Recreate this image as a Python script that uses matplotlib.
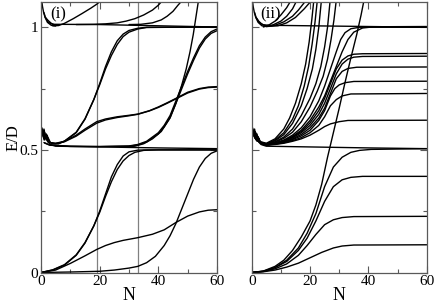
import matplotlib
matplotlib.use("Agg")
import matplotlib.pyplot as plt
from matplotlib.ticker import MultipleLocator

plt.rcParams['font.family'] = ['Liberation Serif', 'DejaVu Serif']

# ---------------- data: panel (i) ----------------
panel_i_labels = "(i)"
vlines_i = [19.0, 33.0]

# lower group (start at 0)
i_A1 = [(0, 0.0), (4, 0.01), (8, 0.03), (12, 0.07), (15, 0.12), (18, 0.19), (20, 0.25), (22, 0.32),
        (24, 0.39), (26, 0.44), (28, 0.475), (30, 0.492), (33, 0.499), (36, 0.5), (45, 0.5), (60, 0.5)]
i_A2 = [(0, 0.0), (4, 0.011), (8, 0.032), (12, 0.072), (15, 0.122), (18, 0.19), (20, 0.245), (22, 0.31),
        (24, 0.37), (26, 0.42), (28, 0.455), (30, 0.477), (32, 0.49), (35, 0.498), (40, 0.5), (60, 0.5)]
i_B = [(0, 0.0), (5, 0.01), (10, 0.037), (15, 0.068), (19, 0.094), (22, 0.11), (25, 0.122), (28, 0.131),
       (33, 0.142), (38, 0.156), (42, 0.174), (46, 0.204), (50, 0.23), (54, 0.247), (57, 0.254), (60, 0.256)]
i_C = [(0, 0.0), (10, 0.002), (20, 0.005), (25, 0.01), (30, 0.018), (33, 0.025), (36, 0.04), (39, 0.066),
       (42, 0.11), (44, 0.15), (46, 0.2), (48, 0.26), (50, 0.32), (52, 0.38), (54, 0.43), (56, 0.465),
       (58, 0.486), (60, 0.496)]

# middle group (start near 0.5)
i_flat = [(0.3, 0.59), (0.7, 0.56), (1.0, 0.585), (1.4, 0.55), (1.8, 0.565), (2.4, 0.532), (3.2, 0.522),
          (5, 0.515), (20, 0.512), (40, 0.508), (60, 0.505)]
i_D1 = [(0.4, 0.585), (0.8, 0.555), (1.1, 0.58), (1.6, 0.545), (2.1, 0.56), (2.8, 0.532), (4, 0.525),
        (6, 0.525), (8, 0.535), (12, 0.57), (15, 0.625), (18, 0.705), (20, 0.77), (22, 0.84), (24, 0.9),
        (26, 0.945), (28, 0.972), (30, 0.987), (33, 0.996), (36, 1.0), (60, 1.0)]
i_D2 = [(0.5, 0.575), (0.9, 0.55), (1.3, 0.57), (1.8, 0.54), (2.4, 0.55), (3.2, 0.53), (4.5, 0.525),
        (6, 0.526), (8, 0.536), (12, 0.572), (15, 0.627), (18, 0.705), (20, 0.765), (22, 0.83), (24, 0.885),
        (26, 0.93), (28, 0.962), (30, 0.98), (33, 0.993), (36, 0.999), (60, 1.002)]
i_E1 = [(0.5, 0.57), (1.0, 0.545), (1.5, 0.56), (2.2, 0.535), (3, 0.53), (5, 0.527), (8, 0.535), (12, 0.56),
        (15, 0.585), (19, 0.615), (22, 0.626), (26, 0.635), (30, 0.641), (33, 0.646), (37, 0.66), (40, 0.675),
        (43, 0.692), (46, 0.71), (50, 0.735), (54, 0.75), (57, 0.756), (60, 0.758)]
i_E2 = [(0.6, 0.565), (1.1, 0.54), (1.7, 0.555), (2.5, 0.533), (3.5, 0.528), (5, 0.526), (8, 0.533),
        (12, 0.556), (15, 0.58), (19, 0.609), (22, 0.622), (26, 0.632), (30, 0.639), (33, 0.645), (37, 0.659),
        (40, 0.673), (43, 0.69), (46, 0.708), (50, 0.732), (54, 0.748), (57, 0.754), (60, 0.756)]
i_F1 = [(1.0, 0.53), (3, 0.52), (10, 0.515), (20, 0.514), (30, 0.516), (33, 0.522), (36, 0.535), (40, 0.57),
        (42, 0.6), (44, 0.64), (46, 0.7), (48, 0.76), (50, 0.82), (52, 0.875), (54, 0.925), (56, 0.96),
        (58, 0.982), (60, 0.993)]
i_F2 = [(1.2, 0.528), (3, 0.519), (10, 0.514), (20, 0.513), (30, 0.515), (33, 0.52), (36, 0.532), (40, 0.565),
        (42, 0.594), (44, 0.632), (46, 0.69), (48, 0.75), (50, 0.81), (52, 0.865), (54, 0.915), (56, 0.952),
        (58, 0.975), (60, 0.986)]
i_Fs = [(28, 0.512), (32, 0.515), (35, 0.525), (38, 0.545), (41, 0.575), (44, 0.63), (46, 0.69), (48, 0.765),
        (49.5, 0.83), (50.8, 0.9), (51.9, 0.97), (52.8, 1.04), (53.7, 1.11)]

# upper group (near 1.0)
i_top_flat = [(1.5, 1.04), (2.5, 1.02), (4, 1.012), (6, 1.012), (20, 1.011), (40, 1.006), (60, 1.001)]
i_top_w1 = [(0.1, 1.12), (0.5, 1.085), (0.9, 1.06), (1.4, 1.04), (2.2, 1.02), (3.5, 1.008), (5, 1.005)]
i_top_w2 = [(1.0, 1.06), (1.5, 1.04), (2.4, 1.028), (3.5, 1.016), (5, 1.008), (6, 1.008)]
i_U1 = [(4, 1.006), (6, 1.007), (8, 1.016), (11, 1.035), (14, 1.056), (17, 1.078), (19, 1.094), (20.6, 1.11)]
i_U2 = [(12, 1.011), (18, 1.012), (22, 1.014), (26, 1.018), (29, 1.025), (32, 1.035), (35, 1.05),
        (38, 1.07), (40, 1.09), (41.5, 1.11)]
i_U3 = [(30, 1.011), (34, 1.012), (38, 1.018), (41, 1.03), (43, 1.045), (45, 1.065), (46.7, 1.09), (48.2, 1.11)]

panel_i = [i_A1, i_A2, i_B, i_C, i_flat, i_D1, i_D2, i_E1, i_E2, i_F1, i_F2, i_Fs,
           i_top_flat, i_top_w1, i_top_w2, i_U1, i_U2, i_U3]

# ---------------- data: panel (ii) ----------------
panel_ii_labels = "(ii)"

ii_Ra = [(0, 0), (4, 0.005), (8, 0.02), (12, 0.05), (16, 0.1), (19, 0.16), (22, 0.24), (25, 0.35),
         (28, 0.43), (31, 0.47), (34, 0.49), (37, 0.498), (41, 0.502), (60, 0.505)]
ii_Rb = [(0, 0), (4, 0.005), (8, 0.02), (12, 0.045), (16, 0.09), (19, 0.14), (22, 0.21), (25, 0.29),
         (28, 0.35), (31, 0.378), (34, 0.388), (38, 0.392), (60, 0.392)]
ii_Rc = [(0, 0), (4, 0.004), (8, 0.015), (12, 0.035), (16, 0.07), (19, 0.11), (22, 0.155), (25, 0.195),
         (28, 0.215), (31, 0.224), (35, 0.228), (60, 0.229)]
ii_Rd = [(0, 0), (4, 0.003), (8, 0.01), (12, 0.022), (16, 0.038), (20, 0.06), (24, 0.082), (28, 0.1),
         (31, 0.108), (35, 0.112), (60, 0.113)]
ii_Rs = [(0, 0), (4, 0.006), (8, 0.025), (11, 0.05), (14, 0.09), (17, 0.145), (20, 0.21), (22, 0.275),
         (24, 0.36), (26, 0.47), (28, 0.57), (30, 0.67), (32, 0.775), (34, 0.875), (36, 0.97), (37.5, 1.05),
         (38.5, 1.11)]

ii_flat = [(0.3, 0.59), (0.7, 0.56), (1.0, 0.585), (1.4, 0.55), (1.8, 0.565), (2.4, 0.532), (3.2, 0.522),
           (5, 0.515), (20, 0.512), (40, 0.508), (60, 0.505)]

ii_S1 = [(0.4, 0.585), (0.8, 0.555), (1.2, 0.575), (1.7, 0.545), (2.5, 0.535), (5, 0.527), (8, 0.545),
         (11, 0.585), (13, 0.63), (15, 0.69), (17, 0.77), (18.5, 0.85), (19.7, 0.94), (20.6, 1.03), (21.3, 1.11)]
ii_S2 = [(0.5, 0.58), (0.9, 0.553), (1.3, 0.572), (1.9, 0.543), (2.7, 0.533), (5, 0.525), (8, 0.54),
         (11, 0.57), (14, 0.625), (16, 0.68), (18, 0.76), (19.5, 0.84), (20.7, 0.93), (21.7, 1.02), (22.5, 1.11)]
ii_S3 = [(0.6, 0.578), (1.0, 0.55), (1.4, 0.568), (2.0, 0.54), (2.9, 0.531), (5, 0.524), (8, 0.537),
         (11, 0.562), (14, 0.608), (17, 0.68), (19, 0.75), (20.8, 0.83), (22, 0.91), (23, 1.0), (23.9, 1.11)]
ii_S4 = [(0.7, 0.575), (1.1, 0.548), (1.5, 0.565), (2.1, 0.538), (3.0, 0.53), (5, 0.523), (8, 0.533),
         (11, 0.552), (14, 0.585), (17, 0.64), (20, 0.71), (22, 0.77), (23.7, 0.84), (25, 0.92), (26, 1.0),
         (26.9, 1.11)]
ii_S5 = [(0.8, 0.572), (1.2, 0.546), (1.6, 0.562), (2.2, 0.536), (3.1, 0.529), (5, 0.522), (8, 0.531),
         (11, 0.547), (14, 0.572), (17, 0.615), (20, 0.675), (22.5, 0.74), (24.5, 0.8), (26, 0.87), (27.2, 0.95),
         (28.2, 1.03), (29, 1.11)]
ii_M1a = [(0.9, 0.57), (1.3, 0.545), (1.8, 0.56), (2.4, 0.535), (3.3, 0.528), (5, 0.52), (8, 0.528), (11, 0.54),
          (14, 0.56), (17, 0.59), (20, 0.635), (23, 0.7), (25, 0.76), (27, 0.83), (29, 0.9), (30.5, 0.95),
          (32, 0.978), (34, 0.994), (37, 1.0), (60, 1.0)]
ii_M1b = [(1.0, 0.568), (1.4, 0.543), (1.9, 0.558), (2.5, 0.534), (3.4, 0.527), (5, 0.52), (8, 0.527),
          (11, 0.538), (14, 0.555), (17, 0.58), (20, 0.62), (23, 0.675), (25, 0.72), (27, 0.78), (29, 0.84),
          (31, 0.9), (33, 0.95), (35, 0.98), (38, 0.997), (42, 1.002), (60, 1.003)]
ii_M89a = [(1.1, 0.566), (1.5, 0.541), (2.0, 0.556), (2.6, 0.533), (3.5, 0.526), (5, 0.52), (8, 0.527),
           (11, 0.537), (14, 0.552), (17, 0.575), (20, 0.61), (23, 0.66), (25, 0.71), (27, 0.77), (29, 0.83),
           (31, 0.866), (33, 0.883), (35, 0.89), (38, 0.892), (60, 0.893)]
ii_M88 = [(1.2, 0.564), (1.6, 0.54), (2.1, 0.554), (2.7, 0.532), (3.6, 0.525), (5, 0.52), (8, 0.526),
          (11, 0.535), (14, 0.549), (17, 0.57), (20, 0.6), (23, 0.645), (25, 0.69), (27, 0.75), (29, 0.81),
          (31, 0.85), (33, 0.87), (35, 0.878), (38, 0.881), (60, 0.882)]
ii_M84 = [(1.3, 0.562), (1.7, 0.538), (2.2, 0.552), (2.8, 0.531), (3.7, 0.524), (5, 0.52), (8, 0.525),
          (11, 0.533), (14, 0.545), (17, 0.563), (20, 0.59), (23, 0.63), (25, 0.67), (27, 0.73), (29, 0.79),
          (31, 0.82), (33, 0.832), (36, 0.837), (60, 0.838)]
ii_M78 = [(1.4, 0.56), (1.8, 0.537), (2.3, 0.55), (2.9, 0.53), (3.8, 0.523), (5, 0.52), (8, 0.524),
          (11, 0.531), (14, 0.542), (17, 0.557), (20, 0.58), (23, 0.62), (25, 0.66), (27, 0.72), (28.5, 0.75),
          (30, 0.765), (32, 0.774), (35, 0.779), (60, 0.78)]
ii_M73 = [(1.5, 0.558), (1.9, 0.536), (2.4, 0.548), (3.0, 0.529), (3.9, 0.522), (5, 0.52), (8, 0.523),
          (11, 0.529), (14, 0.538), (17, 0.55), (20, 0.57), (23, 0.6), (25, 0.635), (27, 0.68), (29, 0.705),
          (31, 0.72), (34, 0.728), (60, 0.73)]
ii_M62 = [(1.6, 0.556), (2.0, 0.535), (2.5, 0.546), (3.1, 0.528), (4.0, 0.521), (5, 0.52), (8, 0.522),
          (11, 0.527), (14, 0.535), (17, 0.545), (20, 0.56), (23, 0.58), (25, 0.595), (27, 0.606), (30, 0.615),
          (33, 0.62), (60, 0.621)]

ii_top_flat = [(1.5, 1.04), (2.5, 1.02), (4, 1.01), (6, 1.008), (20, 1.006), (40, 1.003), (60, 1.0)]
ii_top_w1 = [(0.1, 1.12), (0.5, 1.085), (0.9, 1.06), (1.4, 1.04), (2.2, 1.02), (3.5, 1.006), (5, 1.004)]
ii_top_w2 = [(1.0, 1.06), (1.5, 1.04), (2.4, 1.025), (3.5, 1.012), (5, 1.006), (6, 1.006)]
ii_U1 = [(4, 1.002), (6, 1.01), (8, 1.025), (10, 1.05), (12, 1.08), (13.5, 1.11)]
ii_U2 = [(4, 1.002), (7, 1.008), (10, 1.025), (12, 1.045), (14, 1.075), (15.5, 1.11)]
ii_U3 = [(5, 1.003), (8, 1.008), (11, 1.022), (14, 1.045), (16, 1.07), (18, 1.1), (18.5, 1.11)]
ii_U4 = [(5, 1.003), (9, 1.006), (12, 1.018), (15, 1.04), (18, 1.075), (20.6, 1.11)]

panel_ii = [ii_Ra, ii_Rb, ii_Rc, ii_Rd, ii_Rs, ii_flat, ii_S1, ii_S2, ii_S3, ii_S4, ii_S5,
            ii_M1a, ii_M1b, ii_M89a, ii_M88, ii_M84, ii_M78, ii_M73, ii_M62,
            ii_top_flat, ii_top_w1, ii_top_w2, ii_U1, ii_U2, ii_U3, ii_U4]

x_ticks = [0, 20, 40, 60]
y_ticks = [0, 0.5, 1]
y_tick_labels = ["0", "0.5", "1"]

# ---------------- drawing ----------------
fig = plt.figure(figsize=(4.36, 3.06), dpi=100)
ax1 = fig.add_axes([41 / 436, 33.5 / 306, 176 / 436, 270.5 / 306])
ax2 = fig.add_axes([251.7 / 436, 33.5 / 306, 175 / 436, 270.5 / 306])

for ax, curves, lab in [(ax1, panel_i, panel_i_labels), (ax2, panel_ii, panel_ii_labels)]:
    for c in curves:
        xs = [p[0] for p in c]
        ys = [p[1] for p in c]
        ax.plot(xs, ys, color='black', lw=1.0, solid_capstyle='round', solid_joinstyle='round')
    ax.set_xlim(0, 60)
    ax.set_ylim(0, 1.103)
    ax.set_xticks(x_ticks)
    ax.xaxis.set_minor_locator(MultipleLocator(10))
    ax.set_yticks(y_ticks)
    ax.yaxis.set_minor_locator(MultipleLocator(0.25))
    ax.tick_params(which='both', direction='in', top=True, right=True, labelsize=11, pad=2,
                   color='0.35', width=0.8)
    ax.tick_params(which='major', length=5)
    ax.tick_params(which='minor', length=3)
    for s in ax.spines.values():
        s.set_color('0.35')
        s.set_linewidth(0.9)
    ax.set_xlabel("N", fontsize=13, labelpad=-1)
    ax.text(0.05, 0.985, lab, transform=ax.transAxes, ha='left', va='top', fontsize=12)

for v in vlines_i:
    ax1.axvline(v, color='0.5', lw=0.9, zorder=0)

ax1.set_yticklabels(y_tick_labels)
ax1.set_ylabel("E/D", fontsize=12, labelpad=-2)
ax2.set_yticklabels([])

fig.savefig("out.png", dpi=100)
